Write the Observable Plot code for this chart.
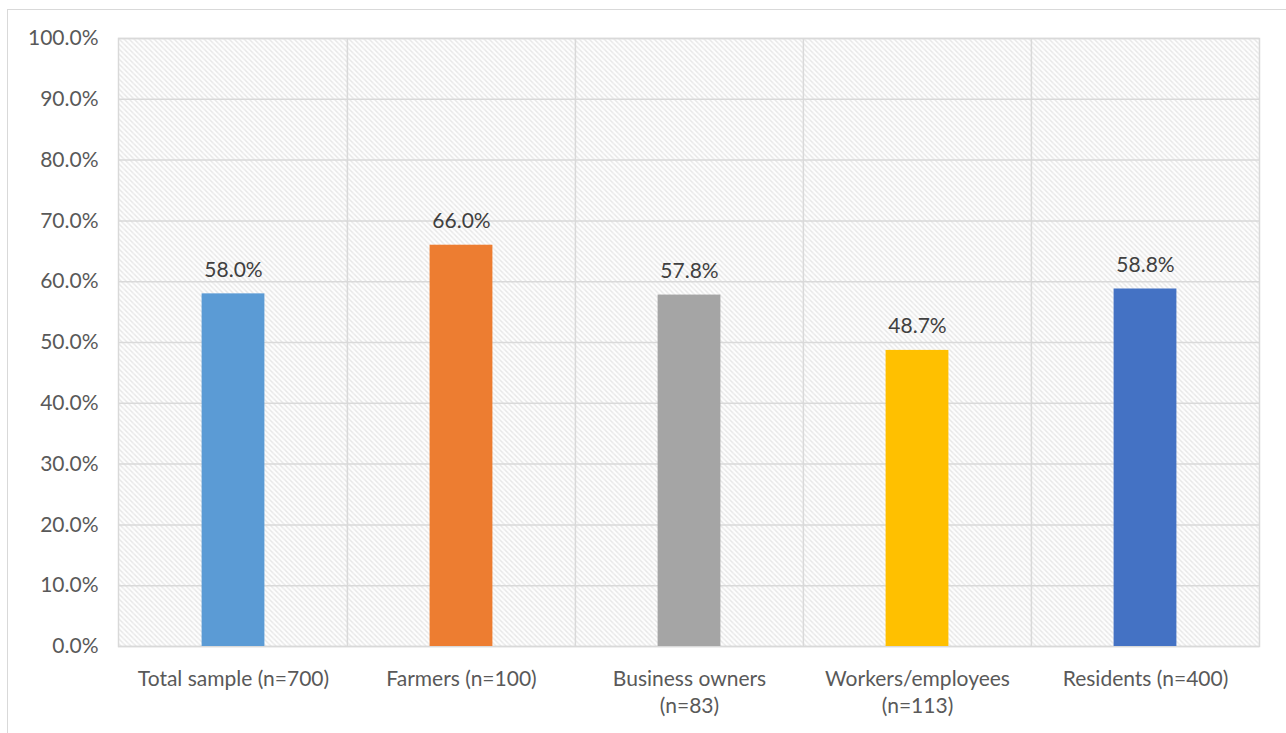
<!DOCTYPE html>
<html>
<head>
<meta charset="utf-8">
<script src="https://cdn.jsdelivr.net/npm/d3@7"></script>
<script src="https://cdn.jsdelivr.net/npm/@observablehq/plot@0.6"></script>
<style>
  body { margin: 0; background: #fff; overflow: hidden; }
  #wrap { position: relative; width: 1286px; height: 733px; }
  #border { position: absolute; left: 7px; top: 9px; width: 1290px; height: 740px; border: 1.5px solid #d9d9d9; box-sizing: border-box; }
  #chart { position: absolute; left: 0; top: 0; }
</style>
</head>
<body>
<div id="wrap"><div id="border"></div><div id="chart"></div></div>
<script>
const categories = ["Total sample (n=700)", "Farmers (n=100)", "Business owners (n=83)", "Workers/employees (n=113)", "Residents (n=400)"];
const tickLabels = ["Total sample (n=700)", "Farmers (n=100)", "Business owners\n(n=83)", "Workers/employees\n(n=113)", "Residents (n=400)"];
const values = [0.580, 0.660, 0.578, 0.487, 0.588];
const colors = ["#5B9BD5", "#ED7D31", "#A5A5A5", "#FFC000", "#4472C4"];
const yTicks = [0, 0.1, 0.2, 0.3, 0.4, 0.5, 0.6, 0.7, 0.8, 0.9, 1.0];

const data = categories.map((c, i) => ({category: c, value: values[i], color: colors[i]}));
const ml = 118, mr = 27;
const bw = (1286 - ml - mr) / categories.length;
const fs = 21;

const plot = Plot.plot({
  width: 1286,
  height: 733,
  marginLeft: ml,
  marginRight: mr,
  marginTop: 38,
  marginBottom: 87,
  style: {fontFamily: "Lato, sans-serif", fontSize: fs + "px", color: "#595959", background: "transparent"},
  x: {domain: categories, padding: 0, label: null},
  y: {domain: [0, 1], label: null},
  marks: [
    Plot.frame({fill: "url(#hatch)", stroke: "#d9d9d9", strokeWidth: 1.5}),
    Plot.ruleY(yTicks, {stroke: "#d9d9d9", strokeWidth: 1.5}),
    Plot.ruleX(categories.slice(1), {stroke: "#d9d9d9", strokeWidth: 1.5, dx: -bw / 2}),
    Plot.barY(data, {x: "category", y: "value", fill: "color", insetLeft: (bw - 63) / 2, insetRight: (bw - 63) / 2}),
    Plot.text(data, {x: "category", y: "value", text: d => d3.format(".1%")(d.value), lineAnchor: "bottom", dy: -17, fill: "#404040", fontSize: fs}),
    Plot.axisY({ticks: yTicks, tickFormat: d3.format(".1%"), tickSize: 0, tickPadding: 20, fill: "#595959", fontSize: fs}),
    Plot.axisX({tickSize: 0, tickPadding: 20, tickFormat: (d, i) => tickLabels[categories.indexOf(d)], fill: "#595959", fontSize: fs, lineHeight: 1.3})
  ]
});

const svg = d3.select(plot);
const defs = svg.insert("defs", ":first-child");
const pat = defs.append("pattern").attr("id", "hatch").attr("patternUnits", "userSpaceOnUse")
  .attr("width", 5).attr("height", 5);
pat.append("rect").attr("width", 5).attr("height", 5).attr("fill", "#fff");
pat.append("path").attr("d", "M0,0 L5,5 M-1,4 L1,6 M4,-1 L6,1")
  .attr("stroke", "#cccccc").attr("stroke-width", 1.1).attr("stroke-dasharray", "1.2,0.6");
document.getElementById("chart").appendChild(plot);
</script>
</body>
</html>
